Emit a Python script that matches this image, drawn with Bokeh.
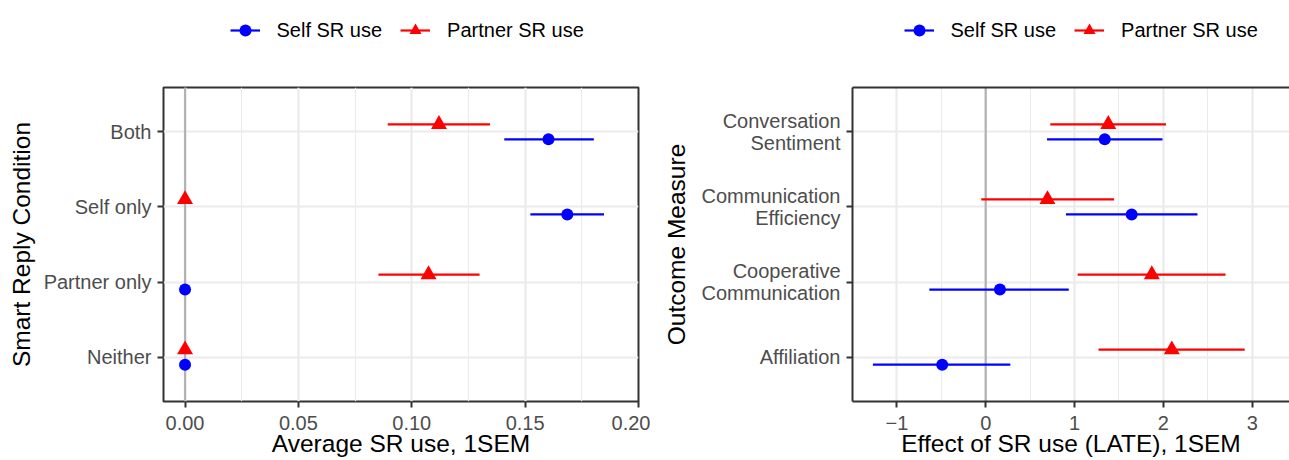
from bokeh.plotting import figure
from bokeh.models import (ColumnDataSource, FactorRange, Range1d, FixedTicker, Span,
                          Legend, LegendItem, LinearAxis, PrintfTickFormatter)
from bokeh.transform import dodge
from bokeh.layouts import row, column
from bokeh.embed import file_html
from bokeh.resources import INLINE

# ---------------- data ----------------
conditions = ["Neither", "Partner only", "Self only", "Both"]
cond_self_mean = [0.0, 0.0, 0.1686, 0.1603]
cond_self_lo = [0.0, 0.0, 0.1523, 0.1408]
cond_self_hi = [0.0, 0.0, 0.1848, 0.1803]
cond_partner_mean = [0.0, 0.1074, 0.0, 0.1120]
cond_partner_lo = [0.0, 0.0853, 0.0, 0.0894]
cond_partner_hi = [0.0, 0.1299, 0.0, 0.1345]

outcomes = ["Affiliation", "Cooperative\nCommunication",
            "Communication\nEfficiency", "Conversation\nSentiment"]
out_self_mean = [-0.49, 0.16, 1.643, 1.34]
out_self_lo = [-1.27, -0.635, 0.903, 0.69]
out_self_hi = [0.277, 0.935, 2.384, 1.99]
out_partner_mean = [2.095, 1.87, 0.695, 1.38]
out_partner_lo = [1.27, 1.035, -0.05, 0.727]
out_partner_hi = [2.915, 2.70, 1.445, 2.03]

left_ticks = [0.0, 0.05, 0.10, 0.15, 0.20]
left_minor = [0.025, 0.075, 0.125, 0.175]
right_ticks = [-1, 0, 1, 2, 3]
right_minor = [-1.5, -0.5, 0.5, 1.5, 2.5, 3.5]
series_labels = ["Self SR use", "Partner SR use"]

BLUE = "#0000FF"
RED = "#FF0000"
FONT = "Liberation Sans"
LEG_H = 80
MAIN_H = 380
MB_TOP = 7
MB_BOTTOM = 59


def add_series(p, src_s, src_p, visible=True):
    ys = dodge("cat", -0.1, range=p.y_range)
    yp = dodge("cat", 0.1, range=p.y_range)
    seg_s = p.segment(x0="lo", x1="hi", y0=ys, y1=ys, source=src_s,
                      line_color=BLUE, line_width=2.2, visible=visible)
    sc_s = p.scatter(x="mean", y=ys, source=src_s, marker="circle", size=12,
                     fill_color=BLUE, line_color=None, visible=visible)
    seg_p = p.segment(x0="lo", x1="hi", y0=yp, y1=yp, source=src_p,
                      line_color=RED, line_width=2.2, visible=visible)
    sc_p = p.scatter(x="mean", y=yp, source=src_p, marker="triangle", size=16,
                     fill_color=RED, line_color=None, visible=visible)
    return seg_s, sc_s, seg_p, sc_p


def make_panel(cats, s_mean, s_lo, s_hi, p_mean, p_lo, p_hi, xr, ticks, minor,
               xlabel, ylabel, width, mbl, mbr, ylab_standoff, legend_x,
               outline=True, formatter=None, overrides=None):
    x_range = Range1d(*xr)
    y_range = FactorRange(factors=cats, range_padding=0.09, range_padding_units="absolute")
    src_s = ColumnDataSource(dict(cat=cats, mean=s_mean, lo=s_lo, hi=s_hi))
    src_p = ColumnDataSource(dict(cat=cats, mean=p_mean, lo=p_lo, hi=p_hi))

    p = figure(width=width, height=MAIN_H, output_backend="svg", toolbar_location=None,
               x_range=x_range, y_range=y_range,
               min_border_left=mbl, min_border_right=mbr,
               min_border_top=MB_TOP, min_border_bottom=MB_BOTTOM)
    p.background_fill_color = "white"
    p.border_fill_color = "white"

    zero = Span(location=0, dimension="height", line_color="#B3B3B3",
                line_width=2.2, level="underlay")
    p.add_layout(zero)
    add_series(p, src_s, src_p)

    ticker = FixedTicker(ticks=ticks, minor_ticks=minor)
    p.xaxis.ticker = ticker
    p.xgrid.ticker = ticker
    if formatter is not None:
        p.xaxis.formatter = formatter
    if overrides:
        p.xaxis.major_label_overrides = overrides

    p.xgrid.grid_line_color = "#EBEBEB"
    p.xgrid.grid_line_width = 2.2
    p.xgrid.minor_grid_line_color = "#EBEBEB"
    p.xgrid.minor_grid_line_width = 1.1
    p.ygrid.grid_line_color = "#EBEBEB"
    p.ygrid.grid_line_width = 2.2

    for ax in (p.xaxis[0], p.yaxis[0]):
        ax.major_label_text_font = FONT
        ax.major_label_text_font_size = "20px"
        ax.major_label_text_color = "#4D4D4D"
        ax.axis_label_text_font = FONT
        ax.axis_label_text_font_size = "24.5px"
        ax.axis_label_text_font_style = "normal"
        ax.axis_label_text_color = "black"
        ax.major_tick_line_color = "#333333"
        ax.major_tick_line_width = 2
        ax.major_tick_in = 0
        ax.major_tick_out = 6
        ax.minor_tick_line_color = None
    p.xaxis.axis_label = xlabel
    p.yaxis.axis_label = ylabel
    p.xaxis.major_label_standoff = 8
    p.xaxis.axis_label_standoff = -3
    p.yaxis.major_label_standoff = 6
    p.yaxis.axis_label_standoff = ylab_standoff
    p.yaxis.major_label_text_line_height = 1.0

    if outline:
        p.outline_line_color = "#333333"
        p.outline_line_width = 2
        p.xaxis.axis_line_color = None
        p.yaxis.axis_line_color = None
    else:
        p.outline_line_color = None
        p.xaxis.axis_line_color = "#333333"
        p.xaxis.axis_line_width = 2
        p.yaxis.axis_line_color = "#333333"
        p.yaxis.axis_line_width = 2
        top = LinearAxis(ticker=FixedTicker(ticks=[]), axis_line_color="#333333",
                         axis_line_width=2, major_tick_out=0, major_tick_in=0,
                         minor_tick_out=0, minor_tick_in=0, major_label_standoff=0)
        p.add_layout(top, "above")

    # legend strip above the panel (its own renderers are hidden; only the key shows)
    lg = figure(width=width, height=LEG_H, output_backend="svg", toolbar_location=None,
                x_range=x_range, y_range=y_range, x_axis_location=None,
                y_axis_location=None, min_border=0)
    lg.outline_line_color = None
    lg.grid.visible = False
    lg.background_fill_color = "white"
    lg.border_fill_color = "white"
    seg_s, sc_s, seg_p, sc_p = add_series(lg, src_s, src_p, visible=False)
    legend = Legend(items=[LegendItem(label=series_labels[0], renderers=[seg_s, sc_s]),
                           LegendItem(label=series_labels[1], renderers=[seg_p, sc_p])],
                    orientation="horizontal", location=(legend_x, 35),
                    glyph_width=30, glyph_height=30, label_standoff=17, spacing=18,
                    padding=0, margin=0, border_line_color=None,
                    background_fill_alpha=0, inactive_fill_alpha=0,
                    label_text_font=FONT, label_text_font_size="20px",
                    label_text_color="black", click_policy="none")
    lg.add_layout(legend)
    return column(lg, p, spacing=0)


c1 = make_panel(conditions, cond_self_mean, cond_self_lo, cond_self_hi,
                cond_partner_mean, cond_partner_lo, cond_partner_hi,
                (-0.0095, 0.20), left_ticks, left_minor,
                "Average SR use, 1SEM", "Smart Reply Condition",
                650, 163, 12, 6, 66.5, outline=True,
                formatter=PrintfTickFormatter(format="%.2f"))

neg_over = {t: "\u2212" + str(abs(t)) for t in right_ticks if t < 0}
c2 = make_panel(outcomes, out_self_mean, out_self_lo, out_self_hi,
                out_partner_mean, out_partner_lo, out_partner_hi,
                (-1.50, 3.42), right_ticks, right_minor,
                "Effect of SR use (LATE), 1SEM", "Outcome Measure",
                639, 202, 0, 9, 51.5, outline=False, overrides=neg_over)

layout = row(c1, c2, spacing=0)
open("out.html", "w").write(file_html(layout, INLINE))
